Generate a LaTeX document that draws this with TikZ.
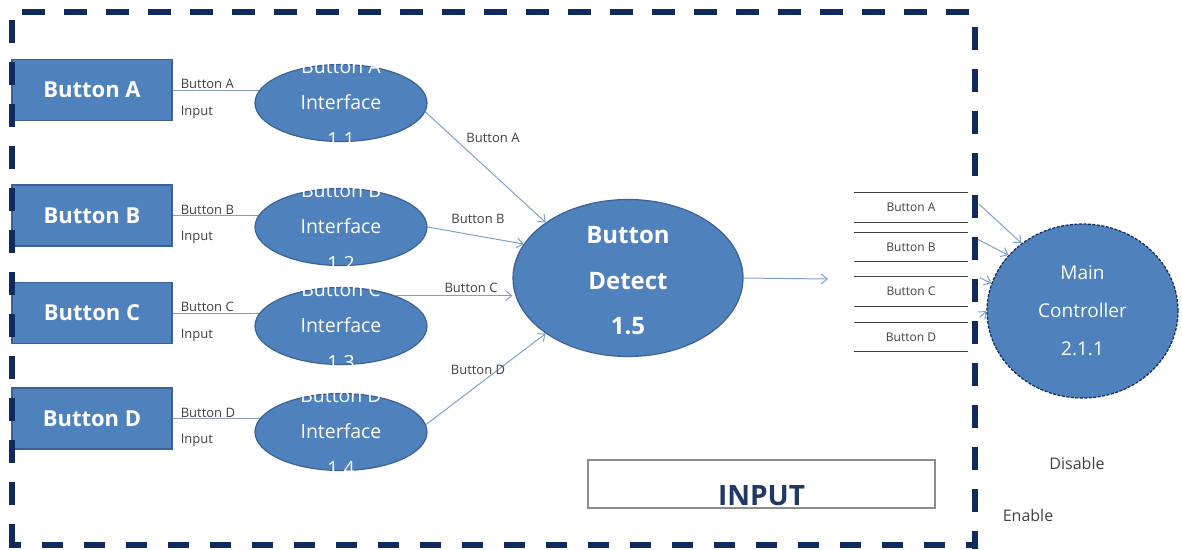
\documentclass[tikz,border=0pt]{standalone}
\usepackage{fontspec}
\setmainfont{Open Sans}
\usetikzlibrary{shapes.geometric,arrows.meta,calc}
\definecolor{boxblue}{HTML}{4F81BD}
\definecolor{boxedge}{HTML}{3A6296}
\definecolor{navy}{HTML}{0F2A5E}
\definecolor{arrowc}{HTML}{7FA0CC}
\definecolor{linkc}{HTML}{8A9DB8}
\definecolor{txtgray}{HTML}{404040}
\definecolor{inputc}{HTML}{1F3864}
\definecolor{inboxc}{HTML}{8C8C8C}
\pgfdeclarelayer{bg}
\pgfsetlayers{bg,main}
\begin{document}
\begin{tikzpicture}[x=1pt,y=-1pt,
  btn/.style={draw=boxedge, fill=boxblue, line width=1.2pt, minimum width=160pt, minimum height=61pt, inner sep=0pt, text=white, font=\fontsize{22}{26}\selectfont\bfseries},
  iface/.style={ellipse, draw=boxedge, fill=boxblue, line width=1.2pt, minimum width=172pt, minimum height=77pt, inner sep=0pt},
  ifacetext/.style={text=white, align=center, inner sep=0pt, font=\fontsize{19.5}{36.5}\selectfont},
  detect/.style={ellipse, draw=boxedge, fill=boxblue, line width=1.2pt, minimum width=230pt, minimum height=157pt, inner sep=0pt},
  detecttext/.style={text=white, align=center, inner sep=0pt, font=\fontsize{24}{45.5}\selectfont\bfseries},
  ctrl/.style={ellipse, draw=navy, fill=boxblue, line width=1.2pt, dash pattern=on 3pt off 1.5pt, minimum width=191pt, minimum height=174pt, inner sep=0pt},
  ctrltext/.style={text=white, align=center, inner sep=0pt, font=\fontsize{19}{38}\selectfont},
  lbl/.style={text=txtgray, inner sep=1pt, font=\fontsize{13}{15}\selectfont},
  store/.style={minimum width=113pt, minimum height=29pt, inner sep=0pt, text=txtgray, font=\fontsize{12}{14}\selectfont},
  storeline/.style={draw=txtgray, line width=1.2pt},
  link/.style={draw=linkc, line width=1pt},
  arr/.style={draw=arrowc, line width=1pt, -{Straight Barb[length=6pt,width=10pt]}},
  border/.style={draw=navy, line width=5.5pt},
  inbox/.style={draw=inboxc, line width=1.3pt, minimum width=347pt, minimum height=48pt, inner sep=0pt},
  inputtext/.style={text=inputc, inner sep=0pt, font=\fontsize{28}{32}\selectfont\bfseries},
  side/.style={text=txtgray, inner sep=0pt, font=\fontsize{16}{18}\selectfont}
]
\useasboundingbox (0,0) rectangle (1182,549);

% buttons
\node[btn] (ba) at (92,90) {Button A};
\node[btn] (bb) at (92,215.5) {Button B};
\node[btn] (bc) at (92,313) {Button C};
\node[btn] (bd) at (92,418.5) {Button D};

% interface ellipses
\node[iface] (ia) at (341,103) {};
\node[iface] (ib) at (341,227) {};
\node[iface] (ic) at (341,326) {};
\node[iface] (id) at (341,432) {};
\node[ifacetext] (ta) at (ia) {Button A\\Interface\\1.1};
\node[ifacetext] (tb) at (ib) {Button B\\Interface\\1.2};
\node[ifacetext] (tc) at (ic) {Button C\\Interface\\1.3};
\node[ifacetext] (td) at (id) {Button D\\Interface\\1.4};

% connectors button -> interface
\begin{pgfonlayer}{bg}
\draw[link] (ba.east) -- (ia.center |- ba.east);
\draw[link] (bb.east) -- (ib.center |- bb.east);
\draw[link] (bc.east) -- (ic.center |- bc.east);
\draw[link] (bd.east) -- (id.center |- bd.east);
\end{pgfonlayer}

% labels at buttons
\node[lbl, anchor=south west] (la1) at ([xshift=7pt]ba.east) {Button A};
\node[lbl, anchor=north west] (la2) at ([xshift=7pt,yshift=-15pt]ba.east) {Input};
\node[lbl, anchor=south west] (lb1) at ([xshift=7pt]bb.east) {Button B};
\node[lbl, anchor=north west] (lb2) at ([xshift=7pt,yshift=-15pt]bb.east) {Input};
\node[lbl, anchor=south west] (lc1) at ([xshift=7pt]bc.east) {Button C};
\node[lbl, anchor=north west] (lc2) at ([xshift=7pt,yshift=-15pt]bc.east) {Input};
\node[lbl, anchor=south west] (ld1) at ([xshift=7pt]bd.east) {Button D};
\node[lbl, anchor=north west] (ld2) at ([xshift=7pt,yshift=-15pt]bd.east) {Input};

% detect
\node[detect] (dt) at (628,278) {};
\node[detecttext] (dtt) at ([yshift=-3pt]dt.center) {Button\\Detect\\1.5};

\draw[arr] (ia.-6) -- (dt.146);
\draw[arr] (ib.0) -- (dt.162);
\draw[arr] (ic.29) -- (ic.29 -| dt.west);
\draw[arr] (id.5) -- (dt.214);
\node[lbl] (ea) at (493,138) {Button A};
\node[lbl] (eb) at (478,219) {Button B};
\node[lbl] (ec) at (471,288) {Button C};
\node[lbl] (ed) at (478,370) {Button D};

\coordinate (outend) at (828,279);
\draw[arr] (dt.east) -- (outend);

% data store
\node[store] (sa) at (911,207.5) {Button A};
\node[store] (sb) at (911,247) {Button B};
\node[store] (sc) at (911,291.5) {Button C};
\node[store] (sd) at (911,337) {Button D};
\foreach \s in {sa,sb,sc,sd}{
  \draw[storeline] (\s.north west) -- (\s.north east);
  \draw[storeline] (\s.south west) -- (\s.south east);
}

% main controller
\node[ctrl] (mc) at (1082.5,311) {};
\node[ctrltext] (mct) at (mc) {Main\\Controller\\2.1.1};
\draw[arr] ([xshift=11pt,yshift=-11pt]sa.north east) -- (mc.132);
\draw[arr] ([xshift=10pt,yshift=-7pt]sb.north east) -- (mc.143);
\draw[arr] ([xshift=12pt,yshift=-1pt]sc.north east) -- (mc.163);
\draw[arr] ([xshift=12pt,yshift=5pt]sd.north east) -- (mc.180.6);

% INPUT box
\node[inbox] (inp) at (761.5,484) {};
\node[inputtext, anchor=base] (inpt) at ([yshift=3pt]inp.south) {INPUT};

\node[side] (dis) at (1077,463) {Disable};
\node[side] (ena) at (1028,515) {Enable};

% dashed frame
\draw[border, dash pattern=on 23pt off 19pt] (22,12) -- (975,12);
\draw[border, dash pattern=on 23pt off 19pt] (12,20) -- (12,547);
\draw[border, dash pattern=on 23pt off 19pt] (975,27) -- (975,549);
\draw[border, dash pattern=on 21pt off 21pt] (42,545) -- (975,545);
\draw[border] (9.25,545) -- (21,545);
\end{tikzpicture}
\end{document}
